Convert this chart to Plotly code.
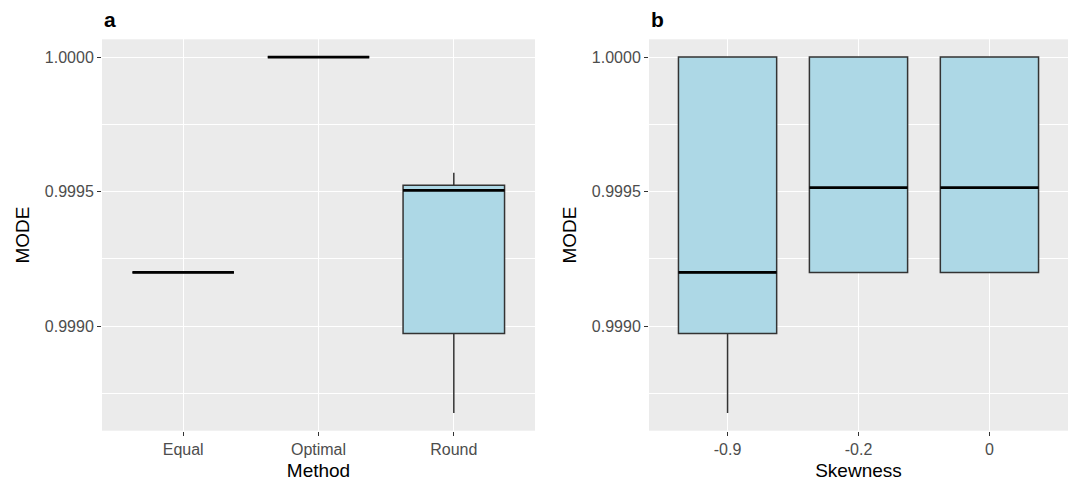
import plotly.graph_objects as go

# ---- data ----
methods = ["Equal", "Optimal", "Round"]
method_lower = [0.99920, 1.00000, 0.998678]
method_q1 = [0.99920, 1.00000, 0.998973]
method_median = [0.99920, 1.00000, 0.999505]
method_q3 = [0.99920, 1.00000, 0.999524]
method_upper = [0.99920, 1.00000, 0.999570]

skewness = ["-0.9", "-0.2", "0"]
skew_lower = [0.998678, 0.99920, 0.99920]
skew_q1 = [0.998973, 0.99920, 0.99920]
skew_median = [0.99920, 0.999515, 0.999515]
skew_q3 = [1.00000, 1.00000, 1.00000]
skew_upper = [1.00000, 1.00000, 1.00000]

y_ticks = [0.9990, 0.9995, 1.0000]
y_minor = [0.99875, 0.99925, 0.99975]

# ---- style ----
BOX_W = 0.75
FILL = "#ADD8E6"
EDGE = "#333333"
PANEL_BG = "#EBEBEB"
FONT = "Liberation Sans, Arial, sans-serif"

lo = min(method_lower + skew_lower)
hi = max(method_upper + skew_upper)
pad = 0.05 * (hi - lo)
y_range = [lo - pad, hi + pad]

fig = go.Figure()


def add_panel(cats, lower, q1, med, q3, upper, xa, ya):
    pos = list(range(len(cats)))
    fig.add_trace(go.Box(
        x=pos, q1=q1, median=med, q3=q3, lowerfence=lower, upperfence=upper,
        width=BOX_W, whiskerwidth=0, boxpoints=False,
        fillcolor=FILL, line=dict(color=EDGE, width=1.5),
        xaxis=xa, yaxis=ya, showlegend=False, hoverinfo="skip",
    ))
    mx, my = [], []
    for p, m in zip(pos, med):
        mx += [p - BOX_W / 2, p + BOX_W / 2, None]
        my += [m, m, None]
    fig.add_trace(go.Scatter(
        x=mx, y=my, mode="lines", line=dict(color="black", width=2.8),
        xaxis=xa, yaxis=ya, showlegend=False, hoverinfo="skip",
    ))


add_panel(methods, method_lower, method_q1, method_median, method_q3, method_upper, "x", "y")
add_panel(skewness, skew_lower, skew_q1, skew_median, skew_q3, skew_upper, "x2", "y2")

W, H = 1070, 484
ydom = [1 - 430.7 / H, 1 - 39.3 / H]
xdom_a = [102 / W, 535 / W]
xdom_b = [649 / W, 1068 / W]

tickfont = dict(family=FONT, size=16, color="#4D4D4D")
titlefont = dict(family=FONT, size=19, color="black")


def xaxis_cfg(cats, dom, anchor, title):
    return dict(
        domain=dom, anchor=anchor, range=[-0.6, len(cats) - 0.4],
        tickmode="array", tickvals=list(range(len(cats))), ticktext=cats,
        showgrid=True, gridcolor="white", gridwidth=1.3, zeroline=False,
        showline=False, ticks="outside", ticklen=4, tickwidth=1.1, tickcolor=EDGE,
        tickfont=tickfont, title=dict(text=title, font=titlefont, standoff=6),
    )


def yaxis_cfg(anchor):
    return dict(
        domain=ydom, anchor=anchor, range=y_range,
        tickmode="array", tickvals=y_ticks, tickformat=".4f",
        showgrid=True, gridcolor="white", gridwidth=1.3, zeroline=False,
        showline=False, ticks="outside", ticklen=4, tickwidth=1.1, tickcolor=EDGE,
        tickfont=tickfont, title=dict(text="MODE", font=titlefont, standoff=10),
        minor=dict(tickvals=y_minor, showgrid=True, gridcolor="white", gridwidth=0.6, ticks=""),
    )


fig.update_layout(
    width=W, height=H, margin=dict(l=0, r=0, t=0, b=0),
    paper_bgcolor="white", plot_bgcolor=PANEL_BG,
    xaxis=xaxis_cfg(methods, xdom_a, "y", "Method"),
    yaxis=yaxis_cfg("x"),
    xaxis2=xaxis_cfg(skewness, xdom_b, "y2", "Skewness"),
    yaxis2=yaxis_cfg("x2"),
    annotations=[
        dict(text="<b>a</b>", xref="paper", yref="paper", x=102 / W, y=1 - 19 / H,
             xanchor="left", yanchor="middle", showarrow=False,
             font=dict(family=FONT, size=21, color="black")),
        dict(text="<b>b</b>", xref="paper", yref="paper", x=649 / W, y=1 - 19 / H,
             xanchor="left", yanchor="middle", showarrow=False,
             font=dict(family=FONT, size=21, color="black")),
    ],
)

fig.write_html("out.html")
